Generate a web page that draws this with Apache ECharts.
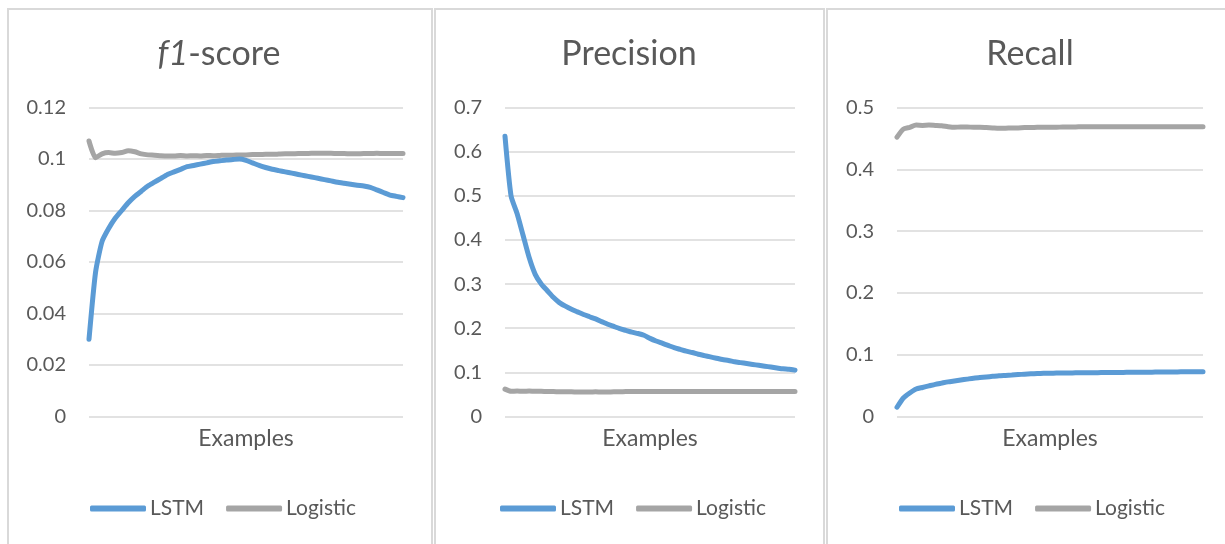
<!DOCTYPE html>
<html>
<head>
<meta charset="utf-8">
<script src="https://cdn.jsdelivr.net/npm/echarts@6/dist/echarts.min.js"></script>
<style>
  html, body { margin: 0; padding: 0; background: #fff; }
  #chart { width: 1225px; height: 544px; }
</style>
</head>
<body>
<div id="chart"></div>
<script>
// --- data (49 samples per panel, x = example index) ---
const seriesNames = ["LSTM", "Logistic"];

const f1Lstm = [0.030, 0.056, 0.068, 0.073, 0.077, 0.080, 0.083, 0.0855, 0.0875, 0.0895,
  0.091, 0.0925, 0.094, 0.095, 0.096, 0.097, 0.0975, 0.098, 0.0985, 0.099,
  0.0993, 0.0996, 0.0998, 0.1, 0.0995, 0.0985, 0.0975, 0.0967, 0.096, 0.0955,
  0.095, 0.0945, 0.094, 0.0935, 0.093, 0.0925, 0.092, 0.0915, 0.091, 0.0906,
  0.0902, 0.0898, 0.0895, 0.089, 0.088, 0.087, 0.086, 0.0855, 0.085];
const f1Logistic = [0.107, 0.1005, 0.102, 0.1025, 0.1022, 0.1025, 0.1032, 0.1028, 0.102, 0.1016,
  0.1015, 0.1013, 0.1012, 0.1012, 0.1014, 0.1012, 0.1013, 0.1012, 0.1014, 0.1013,
  0.1014, 0.1015, 0.1015, 0.1016, 0.1016, 0.1017, 0.1017, 0.1018, 0.1018, 0.1019,
  0.102, 0.102, 0.1021, 0.1021, 0.1022, 0.1022, 0.1022, 0.1022, 0.1021, 0.1021,
  0.102, 0.102, 0.1021, 0.1021, 0.1022, 0.1021, 0.1021, 0.1021, 0.1021];

const precLstm = [0.635, 0.5, 0.46, 0.41, 0.36, 0.322, 0.3, 0.285, 0.27, 0.258,
  0.25, 0.243, 0.237, 0.231, 0.226, 0.221, 0.215, 0.209, 0.204, 0.199,
  0.195, 0.191, 0.188, 0.184, 0.177, 0.171, 0.166, 0.161, 0.156, 0.152,
  0.148, 0.145, 0.141, 0.138, 0.135, 0.132, 0.129, 0.127, 0.124, 0.122,
  0.12, 0.118, 0.116, 0.114, 0.112, 0.11, 0.108, 0.107, 0.105];
const precLogistic = [0.062, 0.057, 0.0575, 0.057, 0.0575, 0.057, 0.057, 0.0565, 0.0565, 0.056,
  0.056, 0.056, 0.0555, 0.0555, 0.0555, 0.056, 0.0555, 0.0555, 0.056, 0.056,
  0.0565, 0.0565, 0.0565, 0.0565, 0.0565, 0.0565, 0.0565, 0.0565, 0.0565, 0.0565,
  0.0565, 0.0565, 0.0565, 0.0565, 0.0565, 0.0565, 0.0565, 0.0565, 0.0565, 0.0565,
  0.0565, 0.0565, 0.0565, 0.0565, 0.0565, 0.0565, 0.0565, 0.0565, 0.0565];

const recLstm = [0.015, 0.03, 0.038, 0.0445, 0.047, 0.0495, 0.052, 0.054, 0.056, 0.0575,
  0.059, 0.0605, 0.062, 0.063, 0.064, 0.065, 0.066, 0.0665, 0.067, 0.0678,
  0.0685, 0.069, 0.0695, 0.0698, 0.07, 0.0702, 0.0703, 0.0705, 0.0706, 0.0707,
  0.0708, 0.0709, 0.071, 0.0711, 0.0712, 0.0713, 0.0714, 0.0715, 0.0716, 0.0717,
  0.0718, 0.0719, 0.072, 0.0721, 0.0722, 0.0723, 0.0724, 0.0725, 0.0725];
const recLogistic = [0.452, 0.465, 0.468, 0.4715, 0.471, 0.4715, 0.471, 0.4705, 0.469, 0.468,
  0.4685, 0.4685, 0.468, 0.468, 0.4675, 0.467, 0.4665, 0.4665, 0.467, 0.467,
  0.4675, 0.4675, 0.468, 0.468, 0.468, 0.468, 0.4685, 0.4685, 0.4685, 0.469,
  0.469, 0.469, 0.469, 0.469, 0.469, 0.469, 0.469, 0.469, 0.469, 0.469,
  0.469, 0.469, 0.469, 0.469, 0.469, 0.469, 0.469, 0.469, 0.469];

const panels = [
  { title: "{i|f1}{n|-score}", lstm: f1Lstm, logistic: f1Logistic, max: 0.12, step: 0.02 },
  { title: "{n|Precision}", lstm: precLstm, logistic: precLogistic, max: 0.7, step: 0.1 },
  { title: "{n|Recall}", lstm: recLstm, logistic: recLogistic, max: 0.5, step: 0.1 }
];

// pixel layout of the three chart boxes (titles centred on the box, like Excel)
const boxes = [
  { x: 7, w: 426, titleX: 219, gridL: 89, gridW: 314, legendL: 90 },
  { x: 434, w: 391, titleX: 629, gridL: 505, gridW: 290, legendL: 500 },
  { x: 826, w: 420, titleX: 1030, gridL: 897, gridW: 306, legendL: 899 }
];

const blue = "#5B9BD5";
const gray = "#A5A5A5";
const textColor = "#595959";
const font = "Lato";

const chart = echarts.init(document.getElementById("chart"));

const grid = [], xAxis = [], yAxis = [], series = [], title = [], legend = [], graphic = [];

panels.forEach((p, k) => {
  const b = boxes[k];
  const cats = p.lstm.map((_, i) => String(i + 1));

  graphic.push({
    type: "rect",
    shape: { x: b.x + 1, y: 9, width: b.w - 2, height: 600 },
    style: { fill: "none", stroke: "#D9D9D9", lineWidth: 2 },
    silent: true
  });

  title.push({
    text: p.title,
    left: b.titleX,
    textAlign: "center",
    top: 37,
    padding: 0,
    textStyle: {
      rich: {
        i: { fontFamily: font, fontSize: 34, fontStyle: "italic", fontWeight: "normal", color: textColor },
        n: { fontFamily: font, fontSize: 34, fontWeight: "normal", color: textColor }
      }
    }
  });

  grid.push({ left: b.gridL, width: b.gridW, top: 107.5, height: 309 });

  xAxis.push({
    type: "category",
    gridIndex: k,
    data: cats,
    boundaryGap: false,
    axisLine: { show: false },
    axisTick: { show: false },
    axisLabel: { show: false },
    name: "Examples",
    nameLocation: "middle",
    nameGap: 11,
    nameTextStyle: { fontFamily: font, fontSize: 23, color: textColor }
  });

  yAxis.push({
    type: "value",
    gridIndex: k,
    min: 0,
    max: p.max,
    interval: p.step,
    axisLine: { show: false },
    axisTick: { show: false },
    axisLabel: {
      margin: 23,
      fontFamily: font,
      fontSize: 20,
      color: textColor,
      formatter: (v) => String(+v.toFixed(2))
    },
    splitLine: { lineStyle: { color: "#D9D9D9", width: 1.5 } }
  });

  [p.lstm, p.logistic].forEach((vals, j) => {
    series.push({
      name: seriesNames[j],
      type: "line",
      xAxisIndex: k,
      yAxisIndex: k,
      data: vals,
      symbol: "none",
      smooth: 0.2,
      color: j === 0 ? blue : gray,
      lineStyle: { width: 5, cap: "round", join: "round" },
      z: j === 0 ? 3 : 2
    });
  });

  legend.push({
    left: b.legendL,
    top: 498,
    padding: 0,
    itemWidth: 56,
    itemHeight: 6,
    itemGap: 22,
    icon: "roundRect",
    data: seriesNames,
    textStyle: { fontFamily: font, fontSize: 21, color: textColor, padding: [0, 0, 0, -1] }
  });
});

chart.setOption({
  animation: false,
  title,
  grid,
  xAxis,
  yAxis,
  series,
  legend,
  graphic
});
</script>
</body>
</html>
